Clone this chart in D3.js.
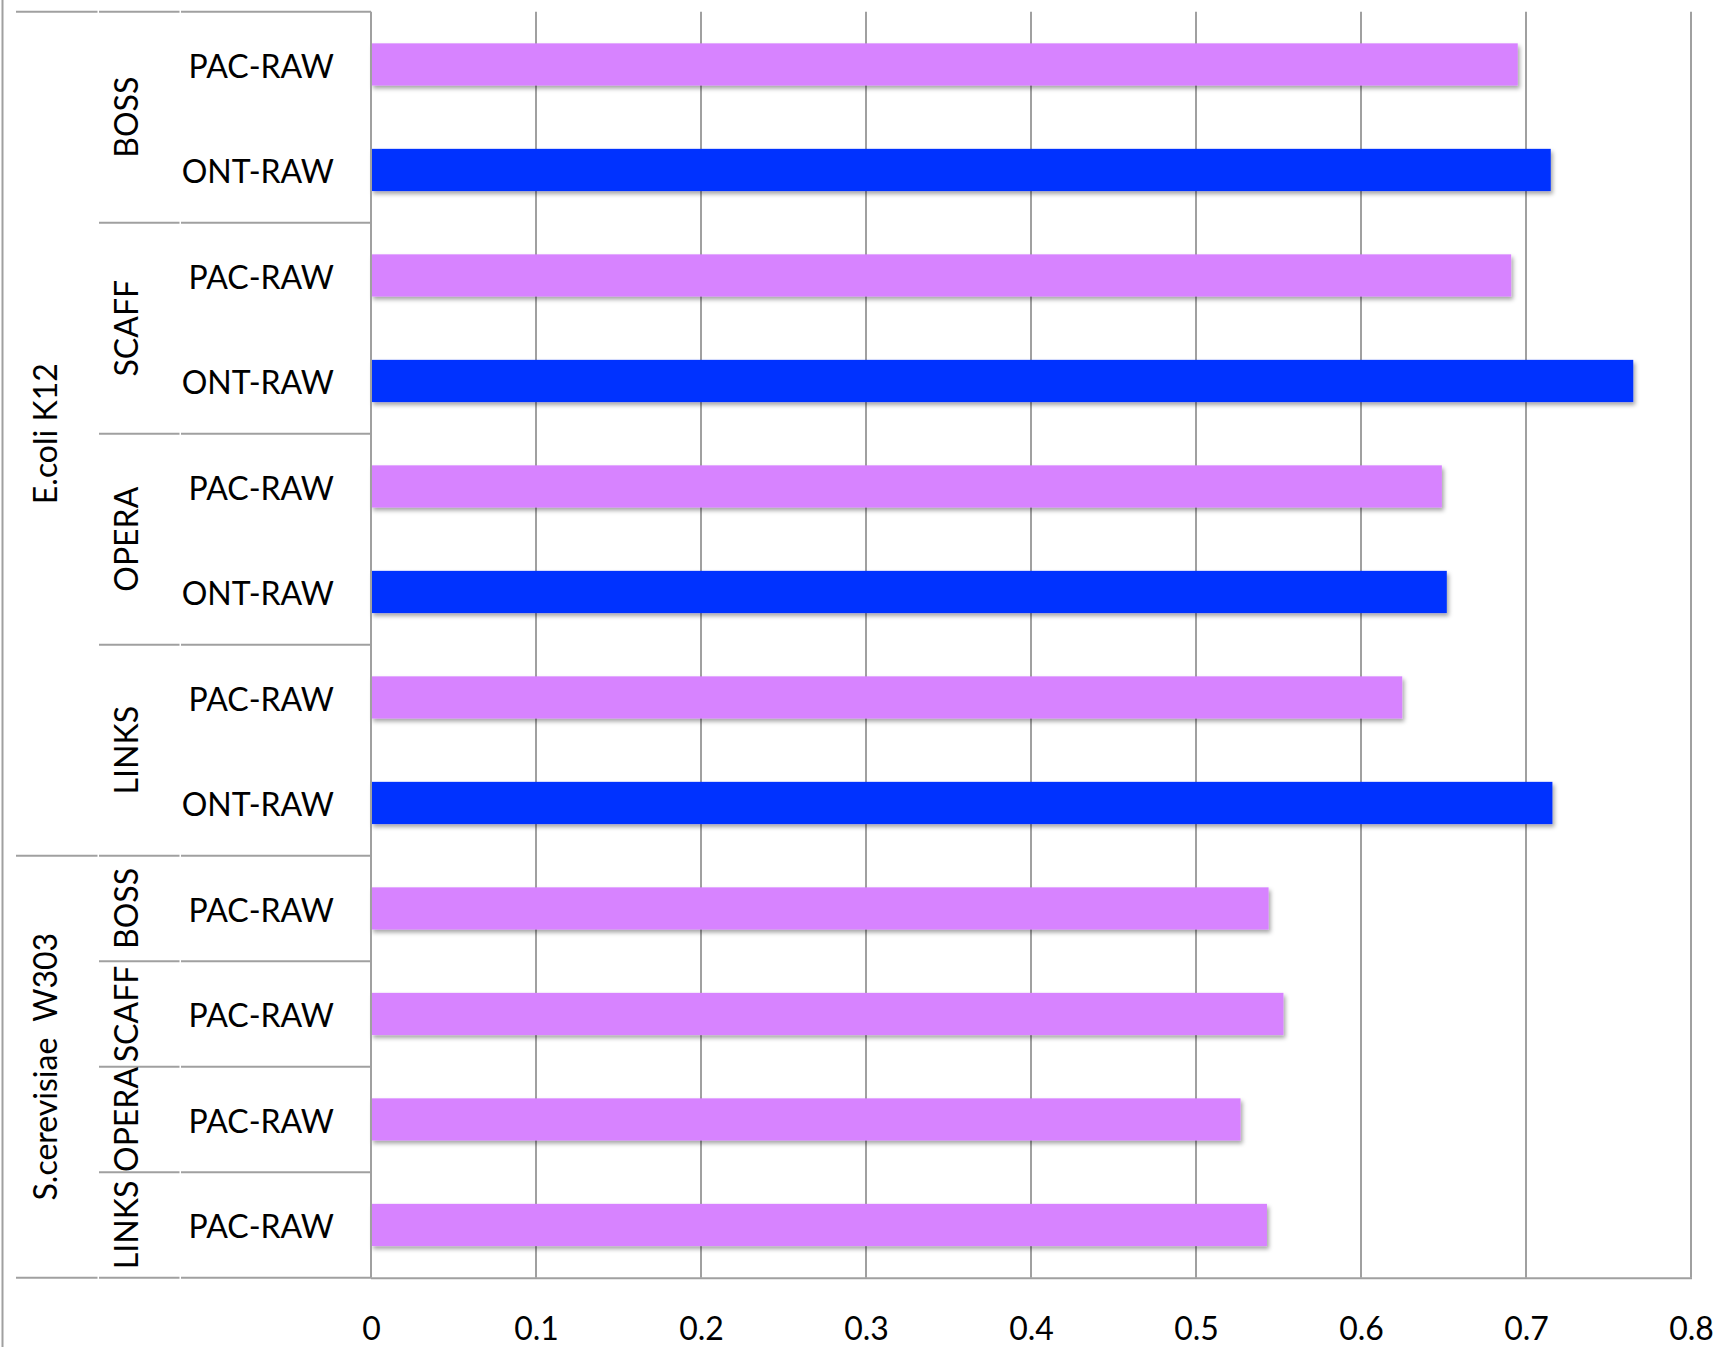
<!DOCTYPE html>
<html>
<head>
<meta charset="utf-8">
<script src="https://cdn.jsdelivr.net/npm/d3@7"></script>
<style>
  html, body { margin: 0; padding: 0; background: #fff; }
  svg { display: block; }
  text { font-family: Lato, "Open Sans", sans-serif; fill: #000; }
</style>
</head>
<body>
<script>
// ---- data ----
const species = ["E.coli K12", "S.cerevisiae  W303"];
const methods = ["BOSS", "SCAFF", "OPERA", "LINKS"];
const seriesNames = ["PAC-RAW", "ONT-RAW"];
const ecoliPac = [0.695, 0.691, 0.649, 0.625];
const ecoliOnt = [0.715, 0.765, 0.652, 0.716];
const scerPac  = [0.544, 0.553, 0.527, 0.543];
const xTicks = [0, 0.1, 0.2, 0.3, 0.4, 0.5, 0.6, 0.7, 0.8];
const colors = { "PAC-RAW": "#D783FF", "ONT-RAW": "#0433FF" };

// build rows (top to bottom)
const rows = [];
methods.forEach((m, i) => {
  rows.push({ sp: species[0], m, s: seriesNames[0], v: ecoliPac[i] });
  rows.push({ sp: species[0], m, s: seriesNames[1], v: ecoliOnt[i] });
});
methods.forEach((m, i) => {
  rows.push({ sp: species[1], m, s: seriesNames[0], v: scerPac[i] });
});
rows.forEach((r, i) => r.id = i);

// ---- layout ----
const W = 1717, H = 1347;
const plotLeft = 371, plotRight = 1691, plotTop = 11.7, plotBottom = 1277.7;
const colSp = 16, colM = 99, colS = 181;
const lineColor = "#A0A0A0";

const svg = d3.select("body").append("svg").attr("width", W).attr("height", H);

const defs = svg.append("defs");
const f = defs.append("filter").attr("id", "shadow")
  .attr("x", "-5%").attr("y", "-30%").attr("width", "115%").attr("height", "190%");
f.append("feDropShadow").attr("dx", 2).attr("dy", 3).attr("stdDeviation", 2.2)
  .attr("flood-color", "#000").attr("flood-opacity", 0.35);

const x = d3.scaleLinear().domain([0, 0.8]).range([plotLeft, plotRight]);
const y = d3.scaleBand().domain(rows.map(r => r.id)).range([plotTop, plotBottom])
  .paddingInner(0.6).paddingOuter(0.3);
const step = y.step();

// outer left border
svg.append("line").attr("x1", 2.5).attr("x2", 2.5).attr("y1", 0).attr("y2", H)
  .attr("stroke", lineColor).attr("stroke-width", 2);

// gridlines
svg.append("g").selectAll("line").data(xTicks.filter(d => d > 0)).join("line")
  .attr("x1", d => x(d)).attr("x2", d => x(d))
  .attr("y1", plotTop).attr("y2", plotBottom)
  .attr("stroke", lineColor).attr("stroke-width", 2);

// bars
svg.append("g").selectAll("rect").data(rows).join("rect")
  .attr("x", x(0)).attr("y", d => y(d.id))
  .attr("width", d => x(d.v) - x(0)).attr("height", y.bandwidth())
  .attr("fill", d => colors[d.s]).attr("filter", "url(#shadow)");

// category boundary lines
function hseg(yy, startX) {
  const segs = [];
  if (startX <= colSp) segs.push([colSp, colM - 1.5]);
  if (startX <= colM) segs.push([colM, colS - 1.5]);
  segs.push([colS, plotLeft]);
  segs.forEach(s => {
    svg.append("line").attr("x1", s[0]).attr("x2", s[1]).attr("y1", yy).attr("y2", yy)
      .attr("stroke", lineColor).attr("stroke-width", 2);
  });
}
const rowTop = i => plotTop + i * step;
// species groups
const spGroups = d3.groups(rows, r => r.sp);
spGroups.forEach(([sp, rs]) => {
  const i0 = rs[0].id, i1 = rs[rs.length - 1].id + 1;
  hseg(rowTop(i0), colSp);
  const yc = (rowTop(i0) + rowTop(i1)) / 2;
  svg.append("text").attr("transform", `translate(57,${yc}) rotate(-90)`)
    .attr("text-anchor", "middle").style("font-size", "32px")
    .style("white-space", "pre").text(sp);
  d3.groups(rs, r => r.m).forEach(([m, ms], k) => {
    const j0 = ms[0].id, j1 = ms[ms.length - 1].id + 1;
    if (k > 0) hseg(rowTop(j0), colM);
    const yc2 = (rowTop(j0) + rowTop(j1)) / 2;
    svg.append("text").attr("transform", `translate(138,${yc2}) rotate(-90)`)
      .attr("text-anchor", "middle").style("font-size", "32px").text(m);
  });
});
hseg(plotBottom, colSp);

// series labels
svg.append("g").selectAll("text").data(rows).join("text")
  .attr("x", 334).attr("y", d => y(d.id) + y.bandwidth() / 2 + 13.5)
  .attr("text-anchor", "end").style("font-size", "32px").text(d => d.s);

// axis line (vertical) and bottom baseline
svg.append("line").attr("x1", plotLeft).attr("x2", plotLeft).attr("y1", plotTop).attr("y2", plotBottom)
  .attr("stroke", lineColor).attr("stroke-width", 2);
svg.append("line").attr("x1", plotLeft).attr("x2", plotRight + 1).attr("y1", plotBottom + 0.5).attr("y2", plotBottom + 0.5)
  .attr("stroke", lineColor).attr("stroke-width", 2);

// x axis labels
const xAxis = d3.axisBottom(x).tickValues(xTicks).tickSize(0).tickPadding(39.6)
  .tickFormat(d3.format(""));
const gx = svg.append("g").attr("transform", `translate(0,${plotBottom})`).call(xAxis);
gx.select(".domain").remove();
gx.selectAll("text").style("font-size", "32px").style("font-family", "Lato, 'Open Sans', sans-serif").attr("fill", "#000");
</script>
</body>
</html>
